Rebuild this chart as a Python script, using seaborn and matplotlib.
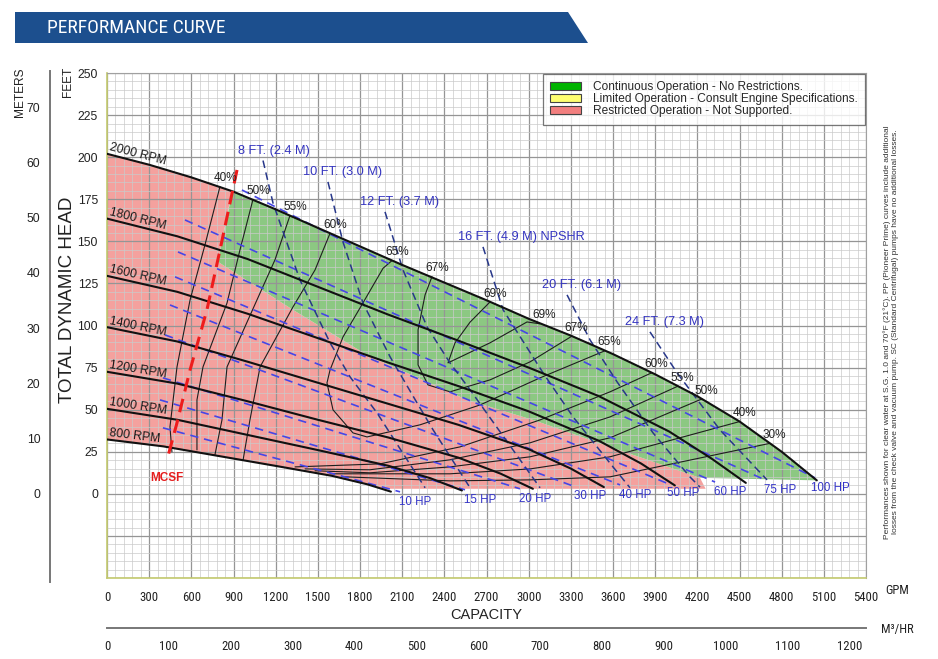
import numpy as np
import pandas as pd
import matplotlib
matplotlib.use('Agg')
import matplotlib.pyplot as plt
import seaborn as sns
from matplotlib.patches import Patch, Polygon
from matplotlib.ticker import MultipleLocator, FuncFormatter
from matplotlib import font_manager

# -----------------------------
# Data (GPM, head in feet)
# -----------------------------
rpm2000_gpm = [0, 300, 600, 900, 1200, 1500, 1800, 2100, 2400, 2700, 3000, 3300, 3600, 3900, 4200, 4500, 4800, 5050]
rpm2000_ft = [202, 195.5, 188, 179.5, 169, 158, 147, 136, 125.5, 115, 104, 94, 83, 71, 58, 43, 25, 8]
rpm1800_gpm = [0, 500, 1000, 1500, 2000, 2500, 3000, 3500, 4000, 4300, 4545]
rpm1800_ft = [163.5, 153, 139.5, 123, 106.5, 91, 75, 58, 37, 21, 6.5]
rpm1600_gpm = [0, 500, 1000, 1500, 2000, 2500, 3000, 3500, 3800, 4040]
rpm1600_ft = [129.5, 120, 107, 92.5, 78, 64, 49, 31.5, 18, 5]
rpm1400_gpm = [0, 500, 1000, 1500, 2000, 2500, 3000, 3300, 3535]
rpm1400_ft = [99, 90.5, 78.5, 66, 53.5, 41, 26.5, 15, 4]
rpm1200_gpm = [0, 500, 1000, 1500, 2000, 2500, 2800, 3030]
rpm1200_ft = [72.5, 65.5, 55, 44, 33.5, 21.5, 12, 3]
rpm1000_gpm = [0, 500, 1000, 1500, 2000, 2300, 2525]
rpm1000_ft = [50.5, 44, 35, 26, 16.7, 9.3, 2]
rpm800_gpm = [0, 400, 800, 1200, 1600, 1850, 2020]
rpm800_ft = [32.3, 28.2, 22.4, 16.6, 10.7, 5.7, 1.3]

rpm_curves = {
    '2000 RPM': (rpm2000_gpm, rpm2000_ft),
    '1800 RPM': (rpm1800_gpm, rpm1800_ft),
    '1600 RPM': (rpm1600_gpm, rpm1600_ft),
    '1400 RPM': (rpm1400_gpm, rpm1400_ft),
    '1200 RPM': (rpm1200_gpm, rpm1200_ft),
    '1000 RPM': (rpm1000_gpm, rpm1000_ft),
    '800 RPM': (rpm800_gpm, rpm800_ft),
}

# efficiency contours (left branches, closed loops, right branches)
eff_left = {
    '40%': ([804, 697, 591, 498, 448, 462], [182.6, 147.9, 115.2, 75.4, 39.8, 24.9]),
    '50%': ([1039, 946, 854, 683, 640, 640], [175, 144.9, 113.4, 75.4, 55.8, 26.1]),
    '55%': ([1302, 1195, 1067, 854, 818, 768], [165.4, 139, 115.2, 75.4, 43.9, 23.2]),
    '60%': ([1587, 1480, 1323, 1089, 1017, 968], [154.8, 133, 111, 75.4, 43.9, 20]),
}
eff_loops = {
    '65%': ([2028, 1964, 1821, 1679, 1587, 1565, 1608, 1750, 1850, 2227, 2654, 3081, 3543],
            [138.6, 134, 113.4, 93.2, 73.6, 65.9, 49.9, 36.2, 33.8, 41, 52.8, 68.9, 85]),
    '67%': ([2312, 2263, 2213, 2213, 2284, 2440, 2725, 3010, 3308],
            [129, 118.2, 97.4, 76.6, 64.7, 60.6, 67.7, 78.4, 93.7]),
    '69%': ([2725, 2583, 2476, 2426, 2725, 2988, 3081],
            [114, 102, 89.7, 77.8, 89.7, 102.1, 101]),
}
eff_right = {
    '60%': ([3878, 3579, 3081, 2512, 1942, 1338], [72, 60.6, 43.9, 27.9, 17.8, 16]),
    '55%': ([4063, 3579, 3010, 2440, 1871, 1409], [64, 45.7, 30.3, 20.2, 14.3, 14.8]),
    '50%': ([4233, 3579, 3010, 2440, 1871, 1480], [56.4, 33.3, 22, 16, 12.5, 13.7]),
    '40%': ([4504, 3579, 3010, 2440, 1587], [43, 22, 14.8, 11.9, 11.9]),
    '30%': ([4717, 3579, 3010, 2440, 1693], [30, 10.1, 8.3, 7.7, 10.1]),
}

# horsepower lines
hp_labels = ['10 HP', '15 HP', '20 HP', '30 HP', '40 HP', '50 HP', '60 HP', '75 HP', '100 HP']
hp_start_gpm = [398, 377, 398, 413, 448, 484, 505, 555, 960]
hp_start_ft = [39.2, 55.8, 68.9, 94.4, 112.2, 128.9, 143.7, 162.7, 180.5]
hp_end_gpm = [2085, 2547, 2938, 3330, 3650, 3992, 4326, 4682, 5037]
hp_end_ft = [1.2, 2.4, 3, 4.2, 5.3, 6, 7, 8.3, 9.5]

# NPSHR lines
npsh = {
    '8 FT. (2.4 M)': ([1110, 1181, 1373, 1587, 1729, 1921, 2263], [198, 172.8, 127, 89.7, 69.5, 48.1, 3.6]),
    '10 FT. (3.0 M)': ([1572, 1679, 1821, 2014, 2206, 2320, 2583], [185.3, 149.6, 113.4, 81.4, 54, 38, 3.6]),
    '12 FT. (3.7 M)': ([1978, 2106, 2277, 2440, 2583, 3081], [167.5, 133, 99.2, 77.8, 61.8, 3.6]),
    '16 FT. (4.9 M) NPSHR': ([2675, 2818, 3102, 3316, 3600, 3721], [146.7, 109.3, 71.9, 45.7, 16, 3.6]),
    '20 FT. (6.1 M)': ([3273, 3437, 3629, 3885, 4148, 4219], [118.2, 91.4, 66.5, 36.2, 10, 4]),
    '24 FT. (7.3 M)': ([3863, 4056, 4361, 4696], [96.2, 71.9, 38, 8.3]),
}

# minimum continuous suction flow
mcsf_gpm = [925, 804, 711, 591, 498, 427]
mcsf_ft = [192.4, 144.9, 109.3, 73.6, 42.2, 20.2]

# lower edge of the green (continuous operation) zone
green_bnd_gpm = [889, 790, 1323, 1850, 2561, 3031, 3742, 4219, 5050]
green_bnd_ft = [178.7, 137.8, 109.3, 82.5, 55.8, 43.9, 23.2, 9.5, 8]
pink_floor_ft = 3

gpm_ticks = list(range(0, 5401, 300))
ft_ticks = list(range(-50, 251, 25))
m_ticks = list(range(-10, 71, 10))
m3h_ticks = list(range(0, 1201, 100))
GPM_PER_M3H = 4.4029
M_PER_FT = 0.3048

legend_labels = ['Continuous Operation - No Restrictions.',
                 'Limited Operation - Consult Engine Specifications.',
                 'Restricted Operation - Not Supported.']
note = ('Performances shown for clear water at S.G. 1.0 and 70\u00b0F (21\u00b0C). PP (Pioneer Prime) curves include additional\n'
        'losses from the check valve and vacuum pump. SC (Standard Centrifugal) pumps have no additional losses.')

# -----------------------------
# Style
# -----------------------------
sns.set_theme(style='white')
fonts = font_manager.fontManager.ttflist
names = {f.name for f in fonts}
base = 'Liberation Sans' if 'Liberation Sans' in names else 'DejaVu Sans'
plt.rcParams['font.family'] = [base, 'DejaVu Sans']

# condensed face for the tick labels and the banner, if one is installed
narrow, stretch, has_narrow = base, 'normal', False
if 'Liberation Sans Narrow' in names:
    narrow, has_narrow = 'Liberation Sans Narrow', True
else:
    for fam in ['Roboto Condensed', 'Open Sans Condensed', 'DejaVu Sans']:
        if any(f.name == fam and f.stretch in ('condensed', 'semi-condensed') for f in fonts):
            narrow, stretch, has_narrow = fam, 'condensed', True
            break

W, H = 938, 659
fig = plt.figure(figsize=(W / 100, H / 100), dpi=100)

def fx(px):
    return px / W

def fy(py):
    return 1 - py / H

L, R, T, B = 107, 866, 73, 578
ax = fig.add_axes([fx(L), fy(B), (R - L) / W, (B - T) / H])
ax.set_xlim(0, 5400)
ax.set_ylim(-50, 250)

# operating zones
top_q = np.linspace(0, green_bnd_gpm[0], 40)
top_h = np.interp(top_q, rpm2000_gpm, rpm2000_ft)
pink_q = list(top_q) + green_bnd_gpm[1:-1] + [green_bnd_gpm[-2] + 40, rpm800_gpm[-1] - 45] + rpm800_gpm[-2::-1]
pink_h = list(top_h) + green_bnd_ft[1:-1] + [pink_floor_ft, pink_floor_ft] + rpm800_ft[-2::-1]
ax.fill(pink_q, pink_h, color='#f4a19e', lw=0, zorder=1)

g_q = np.linspace(green_bnd_gpm[0], green_bnd_gpm[-1], 80)
g_h = np.interp(g_q, rpm2000_gpm, rpm2000_ft)
green_q = list(g_q) + green_bnd_gpm[::-1]
green_h = list(g_h) + green_bnd_ft[::-1]
ax.fill(green_q, green_h, color='#8cc882', lw=0, zorder=1)

# grid
ax.xaxis.set_major_locator(MultipleLocator(300))
ax.xaxis.set_minor_locator(MultipleLocator(60))
ax.yaxis.set_major_locator(MultipleLocator(25))
ax.yaxis.set_minor_locator(MultipleLocator(5))
ax.set_axisbelow('line')
ax.grid(which='major', color='#959595', lw=0.9)
ax.grid(which='minor', color='#cacaca', lw=0.5)

def long_df(curves):
    return pd.concat([pd.DataFrame({'gpm': q, 'ft': h, 'curve': n}) for n, (q, h) in curves.items()],
                     ignore_index=True)

# efficiency lines
eff_all = {}
eff_all.update({k + 'L': v for k, v in eff_left.items()})
eff_all.update({k + 'O': v for k, v in eff_loops.items()})
eff_all.update({k + 'R': v for k, v in eff_right.items()})
sns.lineplot(data=long_df(eff_all), x='gpm', y='ft', units='curve', estimator=None, sort=False,
             color='#1e1e1e', lw=0.8, legend=False, ax=ax, zorder=3)

# horsepower lines
hp_curves = {n: ([a, b], [c, d]) for n, a, b, c, d in zip(hp_labels, hp_start_gpm, hp_end_gpm, hp_start_ft, hp_end_ft)}
sns.lineplot(data=long_df(hp_curves), x='gpm', y='ft', units='curve', estimator=None, sort=False,
             color='#4646e6', lw=1.2, linestyle=(0, (5, 3.5)), legend=False, ax=ax, zorder=4)

# NPSHR lines
sns.lineplot(data=long_df(npsh), x='gpm', y='ft', units='curve', estimator=None, sort=False,
             color='#27378a', lw=1.1, linestyle=(0, (5, 3)), legend=False, ax=ax, zorder=4)

# head-capacity curves
sns.lineplot(data=long_df(rpm_curves), x='gpm', y='ft', units='curve', estimator=None, sort=False,
             color='#111111', lw=1.5, legend=False, ax=ax, zorder=5)

# MCSF
sns.lineplot(x=mcsf_gpm, y=mcsf_ft, estimator=None, sort=False, color='#ee1c1c', lw=2.2,
             linestyle=(0, (4.5, 2.5)), legend=False, ax=ax, zorder=6)
ax.annotate('MCSF', (mcsf_gpm[-1], mcsf_ft[-1]), xytext=(0, -13), textcoords='offset points',
            ha='center', va='center', color='#e51e1e', fontsize=8.5, fontweight='bold', zorder=7)

# labels on curves
for n, (q, h) in rpm_curves.items():
    p0 = ax.transData.transform((q[0], h[0]))
    p1 = ax.transData.transform((q[1], h[1]))
    ang = np.degrees(np.arctan2(p1[1] - p0[1], p1[0] - p0[0]))
    ax.annotate(n, (q[0], h[0]), xytext=(1, 0.5), textcoords='offset points', ha='left', va='bottom',
                rotation=ang, rotation_mode='anchor', fontsize=8.8, color='#1a1a1a', zorder=7)

for d in (eff_left, eff_loops):
    for n, (q, h) in d.items():
        ax.annotate(n, (q[0], h[0]), xytext=(4, 6), textcoords='offset points', ha='center', va='center',
                    fontsize=8.5, color='#222222', zorder=7)
for n, (q, h) in eff_loops.items():
    ax.annotate(n, (q[-1], h[-1]), xytext=(3, 6), textcoords='offset points', ha='center', va='center',
                fontsize=8.5, color='#222222', zorder=7)
for n, (q, h) in eff_right.items():
    ax.annotate(n, (q[0], h[0]), xytext=(3, 6), textcoords='offset points', ha='center', va='center',
                fontsize=8.5, color='#222222', zorder=7)

for n, q, h in zip(hp_labels, hp_end_gpm, hp_end_ft):
    ax.annotate(n, (q, h), xytext=(11, -7), textcoords='offset points', ha='center', va='center',
                fontsize=8.3, color='#3434c8', zorder=7)

for n, (q, h) in npsh.items():
    ax.annotate(n, (q[0], h[0]), xytext=(-18, 7), textcoords='offset points', ha='left', va='center',
                fontsize=9.2, color='#3434c0', zorder=7)

# legend
handles = [Patch(fc='#00b400', ec='#444444', lw=0.8, label=legend_labels[0]),
           Patch(fc='#ffff70', ec='#444444', lw=0.8, label=legend_labels[1]),
           Patch(fc='#f27f7f', ec='#444444', lw=0.8, label=legend_labels[2])]
leg = ax.legend(handles=handles, loc='upper right', bbox_to_anchor=(1, 1), borderaxespad=0.1,
                frameon=True, fancybox=False, edgecolor='#555555', fontsize=8.6, handlelength=2.6,
                handleheight=0.7, labelspacing=0.0, borderpad=0.6, handletextpad=1.0)
leg.get_frame().set_linewidth(0.9)
leg.set_zorder(10)

# axes styling
for s in ['left', 'bottom']:
    ax.spines[s].set_color('#c3c96e')
    ax.spines[s].set_linewidth(1.2)
for s in ['top', 'right']:
    ax.spines[s].set_color('#a0a0a0')
    ax.spines[s].set_linewidth(0.8)
ax.set_xticks(gpm_ticks)
ax.set_yticks(ft_ticks)
ax.yaxis.set_major_formatter(FuncFormatter(lambda v, _: f'{int(v)}' if v >= 0 else ''))
ax.tick_params(axis='both', which='major', length=3.5, width=0.9, color='#777777', direction='out')
ax.tick_params(axis='x', labelsize=9.2 if has_narrow else 7.8, pad=6, labelcolor='#222222')
ax.tick_params(axis='y', labelsize=8.8, pad=3, labelcolor='#222222')
ax.tick_params(which='minor', length=0)
for t in ax.get_xticklabels():
    t.set_fontfamily(narrow)
    t.set_fontstretch(stretch)
ax.set_xlabel('')
ax.set_ylabel('')

# meters axis
axm = fig.add_axes([fx(50), fy(B + 4), 0.0001, (B + 4 - T + 2) / H])
axm.set_ylim(-50 * M_PER_FT - 4 * 0.1811, 250 * M_PER_FT + 2 * 0.1811)
for s in ['top', 'right', 'bottom']:
    axm.spines[s].set_visible(False)
axm.spines['left'].set_color('#777777')
axm.spines['left'].set_linewidth(1.4)
axm.set_xticks([])
axm.set_yticks(m_ticks)
axm.set_yticklabels(['' if v < 0 else str(v) for v in m_ticks])
axm.tick_params(axis='y', length=4, width=1, color='#777777', labelsize=8.8, pad=3, labelcolor='#222222')
axm.patch.set_visible(False)

# m3/hr axis
axq = fig.add_axes([fx(L), fy(628), (R - L) / W, 0.0001])
axq.set_xlim(0, 5400 / GPM_PER_M3H)
for s in ['top', 'right', 'left']:
    axq.spines[s].set_visible(False)
axq.spines['bottom'].set_color('#777777')
axq.spines['bottom'].set_linewidth(1.4)
axq.set_yticks([])
axq.set_xticks(m3h_ticks)
axq.tick_params(axis='x', length=5, width=1, color='#777777', direction='inout',
                labelsize=9.2 if has_narrow else 7.8, pad=6, labelcolor='#222222')
for t in axq.get_xticklabels():
    t.set_fontfamily(narrow)
    t.set_fontstretch(stretch)
axq.patch.set_visible(False)

# axis titles
fig.text(fx(20), fy(92), 'METERS', rotation=90, ha='center', va='center', fontsize=8.6, color='#222222')
fig.text(fx(68), fy(82), 'FEET', rotation=90, ha='center', va='center', fontsize=8.6, color='#222222')
fig.text(fx(68), fy(300), 'TOTAL DYNAMIC HEAD', rotation=90, ha='center', va='center', fontsize=13.5, color='#222222')
fig.text(fx(486), fy(615), 'CAPACITY', ha='center', va='center', fontsize=10.5, color='#222222')
fig.text(fx(897), fy(590), 'GPM', ha='center', va='center', fontsize=9, color='#222222',
         family=narrow, stretch=stretch)
fig.text(fx(897), fy(630), 'M\u00b3/HR', ha='center', va='center', fontsize=9, color='#222222',
         family=narrow, stretch=stretch)
fig.text(fx(891), fy(332), note, rotation=90, ha='center', va='center', fontsize=6.0,
         color='#333333', linespacing=1.25)

# header banner
fig.add_artist(Polygon([(fx(15), fy(12)), (fx(568), fy(12)), (fx(588), fy(43)), (fx(15), fy(43))],
                       closed=True, transform=fig.transFigure, fc='#1c4f8e', ec='none'))
fig.text(fx(47), fy(28), 'PERFORMANCE CURVE', ha='left', va='center', color='white',
         fontsize=14 if has_narrow else 11, family=narrow, stretch=stretch)

fig.savefig('out.png', dpi=100)
